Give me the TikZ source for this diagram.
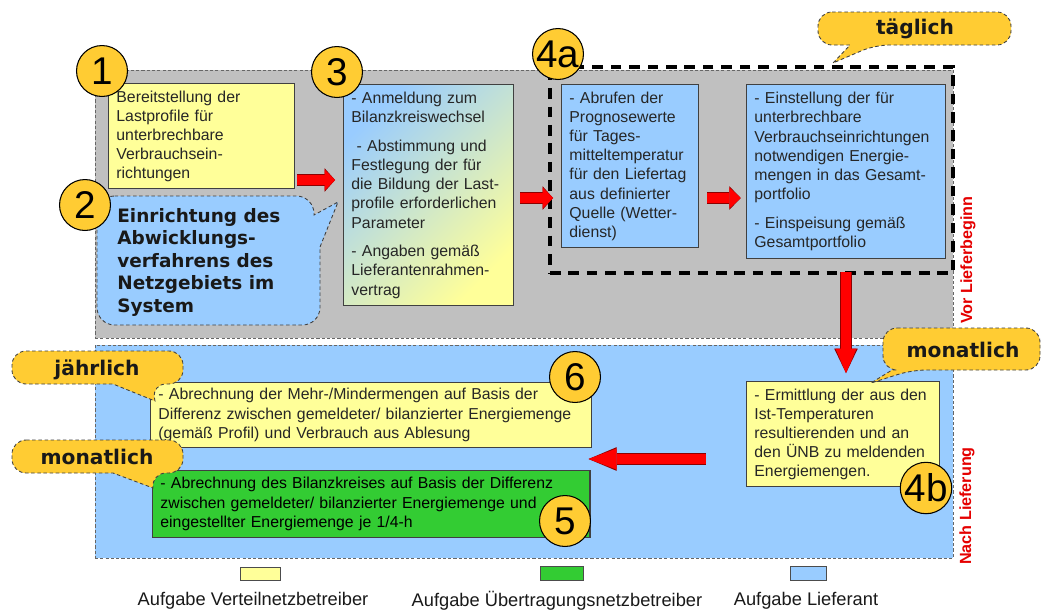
\documentclass[tikz,border=0pt]{standalone}
\usepackage{fontspec}
\setmainfont{Liberation Sans}
\newfontfamily\blasenschrift{DejaVu Sans}
\usetikzlibrary{arrows.meta,fit}

\definecolor{panelgrau}{RGB}{192,192,192}
\definecolor{lieferblau}{RGB}{153,204,255}
\definecolor{vnbgelb}{RGB}{255,255,153}
\definecolor{uenbgruen}{RGB}{51,204,51}
\definecolor{nummergelb}{RGB}{255,204,51}
\definecolor{pfeilrot}{RGB}{255,0,0}

\tikzset{
  aufgabe/.style={draw=black!75, line width=0.6pt, anchor=north west, align=left,
    text=black!85, font=\fontsize{9}{10.9}\selectfont, inner xsep=4.5pt, inner ysep=2pt},
  nummer/.style={circle, draw=black, line width=0.6pt, fill=nummergelb,
    minimum size=29pt, inner sep=0pt, font=\fontsize{22}{22}\selectfont},
  panelrand/.style={draw=black!60, line width=0.5pt, dash pattern=on 1.8pt off 1.2pt},
  blase/.style={draw=black!75, line width=0.5pt, dash pattern=on 2pt off 1.5pt, fill=nummergelb},
  blasentext/.style={font=\blasenschrift\bfseries\fontsize{11.5}{13}\selectfont, text=black!90},
  pfeil/.style={draw=pfeilrot, line width=5.8pt, -{Triangle[length=#1, width=12pt, line width=0pt]},
    preaction={draw=pfeilrot!55!black, line width=6.8pt, -{Triangle[length=#1, width=13.5pt, line width=0pt]}}},
  pfeil/.default=6pt,
  legendfeld/.style={draw=black!70, line width=0.5pt, inner sep=0pt},
  legendtext/.style={font=\fontsize{10.4}{12}\selectfont, text=black!90},
  phase/.style={rotate=90, text=pfeilrot!90!black, font=\bfseries\fontsize{9.2}{11}\selectfont}
}

\begin{document}
\begin{tikzpicture}[x=0.02cm, y=-0.02cm]
  \useasboundingbox[fill=white] (0,0) rectangle (1042,613);

  % Phasen
  \node[panelrand, fill=panelgrau, inner sep=0pt, fit={(95,70) (953,338)}] (vorlief) {};
  \node[panelrand, fill=lieferblau, inner sep=0pt, fit={(95,345) (953,558)}] (nachlief) {};
  \node[phase] (vorlabel) at (968,260) {Vor Lieferbeginn};
  \node[phase] (nachlabel) at (967,506) {Nach Lieferung};
  \node[draw=black, line width=2.3pt, dash pattern=on 6pt off 4.5pt, inner sep=0pt,
    fit={(550,67) (953,273)}] (tagesrahmen) {};

  % Aufgaben
  \node[aufgabe, fill=vnbgelb, text width=97pt, minimum height=60pt] (lastprofil) at (108,83)
    {Bereitstellung der\\Lastprofile für\\unterbrechbare\\Verbrauchsein-\\richtungen};
  \node[aufgabe, top color=lieferblau, bottom color=vnbgelb, shading angle=45,
    text width=88pt, minimum height=126pt] (bilanzkreis) at (343,84)
    {- Anmeldung zum\\Bilanzkreiswechsel\\[5.5pt]\hspace*{3pt}- Abstimmung und\\Festlegung der für\\die Bildung der Last-\\profile erforderlichen\\Parameter\\[5.5pt]- Angaben gemäß\\Lieferantenrahmen-\\vertrag};
  \node[aufgabe, fill=lieferblau, text width=69pt, minimum height=93pt] (prognose) at (561,84)
    {- Abrufen der\\Prognosewerte\\für Tages-\\mitteltemperatur\\für den Liefertag\\aus definierter\\Quelle (Wetter-\\dienst)};
  \node[aufgabe, fill=lieferblau, text width=104pt, minimum height=99pt] (portfolio) at (746,84)
    {- Einstellung der für\\unterbrechbare\\Verbrauchseinrichtungen\\notwendigen Energie-\\mengen in das Gesamt-\\portfolio\\[5.5pt]- Einspeisung gemäß\\Gesamtportfolio};
  \node[aufgabe, fill=vnbgelb, text width=101pt, minimum height=60pt] (ermittlung) at (746,381)
    {- Ermittlung der aus den\\Ist-Temperaturen\\resultierenden und an\\den ÜNB zu meldenden\\Energiemengen.};
  \node[aufgabe, fill=vnbgelb, text width=242pt, minimum height=37pt] (mehrmengen) at (150,382)
    {- Abrechnung der Mehr-/Mindermengen auf Basis der\\Differenz zwischen gemeldeter/ bilanzierter Energiemenge\\(gemäß Profil) und Verbrauch aus Ablesung};
  \node[aufgabe, fill=uenbgruen, text=black, text width=240pt, minimum height=38pt] (bilanzabr) at (152,470)
    {- Abrechnung des Bilanzkreises auf Basis der Differenz\\zwischen gemeldeter/ bilanzierter Energiemenge und\\eingestellter Energiemenge je 1/4-h};

  % Pfeile
  \coordinate (hoehe1) at (0,180);
  \coordinate (hoehe2) at (0,198);
  \coordinate (hoehe3) at (0,459);
  \coordinate (spalte) at (846,0);
  \draw[pfeil=6pt, shorten <=1pt, shorten >=4.5pt] (lastprofil.east |- hoehe1) -- (bilanzkreis.west |- hoehe1);
  \draw[pfeil=6pt, shorten <=3.4pt, shorten >=4.5pt] (bilanzkreis.east |- hoehe2) -- (prognose.west |- hoehe2);
  \draw[pfeil=6.5pt, shorten <=4.5pt, shorten >=3pt] (prognose.east |- hoehe2) -- (portfolio.west |- hoehe2);
  \draw[pfeil=14pt, shorten <=-2pt, shorten >=4.5pt] (tagesrahmen.south -| spalte) -- (ermittlung.north -| spalte);
  \draw[pfeil=16pt, shorten <=22.8pt, shorten >=-2pt] (ermittlung.west |- hoehe3) -- (mehrmengen.east |- hoehe3);

  % Sprechblasen
  \draw[blase, fill=lieferblau] (97,196) [rounded corners=10pt] -- (314,196) [sharp corners] -- (314,215)
    -- (338,202) -- (320,247) [rounded corners=10pt] -- (320,325) -- (97,325) -- cycle;
  \node[anchor=north west, align=left, inner sep=0pt, text=black!90,
    font=\blasenschrift\bfseries\fontsize{10.5}{12.8}\selectfont] (abwicklung) at (117,208)
    {Einrichtung des\\Abwicklungs-\\verfahrens des\\Netzgebiets im\\System};
  \draw[blase] (818,12) [rounded corners=8pt] -- (1011,12) -- (1011,45) -- (875,45) [sharp corners]
    -- (833,63) -- (850,45) [rounded corners=8pt] -- (818,45) -- cycle;
  \node[blasentext] (taeglich) at (915,29) {täglich};
  \draw[blase] (883,328) [rounded corners=8pt] -- (1040,328) -- (1040,370) -- (912,370) [sharp corners]
    -- (871,383) -- (892,370) [rounded corners=8pt] -- (883,370) -- cycle;
  \node[blasentext] (monatlichoben) at (963,350) {monatlich};
  \draw[blase] (12,351) [rounded corners=8pt] -- (183,351) -- (183,384) -- (152,384) [sharp corners]
    -- (155,401) -- (113,384) [rounded corners=8pt] -- (12,384) -- cycle;
  \node[blasentext] (jaehrlich) at (97,370) {jährlich};
  \draw[blase] (12,440) [rounded corners=8pt] -- (183,440) -- (183,473) -- (152,473) [sharp corners]
    -- (153,488) -- (113,473) [rounded corners=8pt] -- (12,473) -- cycle;
  \node[blasentext] (monatlichunten) at (97,457) {monatlich};

  % Nummern
  \node[nummer] (n1) at (102,71) {1};
  \node[nummer] (n2) at (85,205) {2};
  \node[nummer] (n3) at (337,72) {3};
  \node[nummer] (n4a) at (558,54) {4a};
  \node[nummer] (n4b) at (926,488) {4b};
  \node[nummer] (n5) at (565,521) {5};
  \node[nummer] (n6) at (575,377) {6};

  % Legende
  \node[legendfeld, fill=vnbgelb, fit={(240,567) (280,580)}] (legvnb) {};
  \node[legendfeld, fill=uenbgruen, fit={(540,566) (583,580)}] (leguenb) {};
  \node[legendfeld, fill=lieferblau, fit={(790,566) (826,580)}] (leglief) {};
  \node[legendtext] (legvnbtext) at (253,601) {Aufgabe Verteilnetzbetreiber};
  \node[legendtext] (leguenbtext) at (557,601) {Aufgabe Übertragungsnetzbetreiber};
  \node[legendtext] (legliefttext) at (806,601) {Aufgabe Lieferant};
\end{tikzpicture}
\end{document}
